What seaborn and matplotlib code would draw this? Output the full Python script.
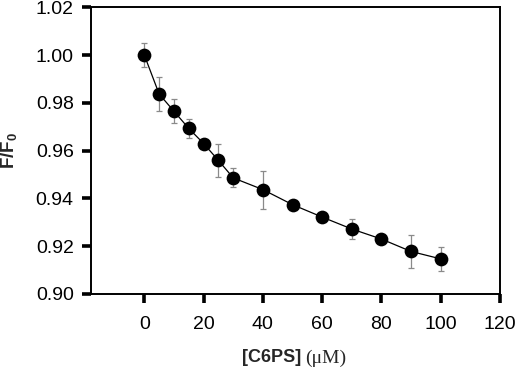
import numpy as np
import pandas as pd
import matplotlib
matplotlib.use("Agg")
import matplotlib.pyplot as plt
import seaborn as sns

# data
conc = [0, 5, 10, 15, 20, 25, 30, 40, 50, 60, 70, 80, 90, 100]
ratio = [1.000, 0.9837, 0.9765, 0.9693, 0.9630, 0.9559, 0.9486,
         0.9437, 0.9374, 0.9322, 0.9272, 0.9230, 0.9178, 0.9147]
err = [0.005, 0.007, 0.005, 0.004, 0.002, 0.007, 0.004,
       0.008, 0.002, 0.002, 0.004, 0.002, 0.007, 0.005]
xticks = [0, 20, 40, 60, 80, 100, 120]
yticks = [0.90, 0.92, 0.94, 0.96, 0.98, 1.00, 1.02]

df = pd.DataFrame({"conc": conc, "ratio": ratio, "err": err})

sns.set_style("ticks")
plt.rcParams["font.family"] = ["Liberation Sans", "DejaVu Sans"]
plt.rcParams["mathtext.fontset"] = "custom"
plt.rcParams["mathtext.bf"] = "Liberation Sans:bold"
plt.rcParams["mathtext.rm"] = "Liberation Sans"

fig = plt.figure(figsize=(5.2, 3.69), dpi=100)
ax = fig.add_axes([0.175, 0.2033, 0.7865, 0.7767])

sns.lineplot(data=df, x="conc", y="ratio", color="black", linewidth=0.9, ax=ax, zorder=1)
ax.errorbar(df["conc"], df["ratio"], yerr=df["err"], fmt="none", ecolor="#8a8a8a",
            elinewidth=0.9, capsize=2.5, capthick=0.9, zorder=2)
sns.scatterplot(data=df, x="conc", y="ratio", color="black", s=98, edgecolor="black",
                linewidth=0, ax=ax, zorder=3)

ax.set_xlim(-18, 120)
ax.set_ylim(0.90, 1.02)
ax.set_xticks(xticks)
ax.set_yticks(yticks)
ax.set_yticklabels([f"{v:.2f}" for v in yticks])
ax.set_xlabel("")
ax.set_ylabel("")

for s in ax.spines.values():
    s.set_linewidth(1.4)
    s.set_color("black")
ax.tick_params(axis="both", direction="out", length=6.5, width=2.6, color="black",
               labelsize=14, labelcolor="black")
ax.tick_params(axis="x", pad=9)
ax.tick_params(axis="y", pad=6)

fig.text(9 / 520, 1 - 150 / 369, r"$\mathbf{F/F_0}$", rotation=90,
         ha="center", va="center", fontsize=13.5)
fig.text(301 / 520, 1 - 358 / 369, "[C6PS]", fontweight="bold", fontsize=13,
         ha="right", va="center")
fig.text(305 / 520, 1 - 358 / 369, "(\u03bcM)", family=["Liberation Serif", "DejaVu Serif"],
         fontsize=14, ha="left", va="center")

fig.savefig("out.png", dpi=100)
